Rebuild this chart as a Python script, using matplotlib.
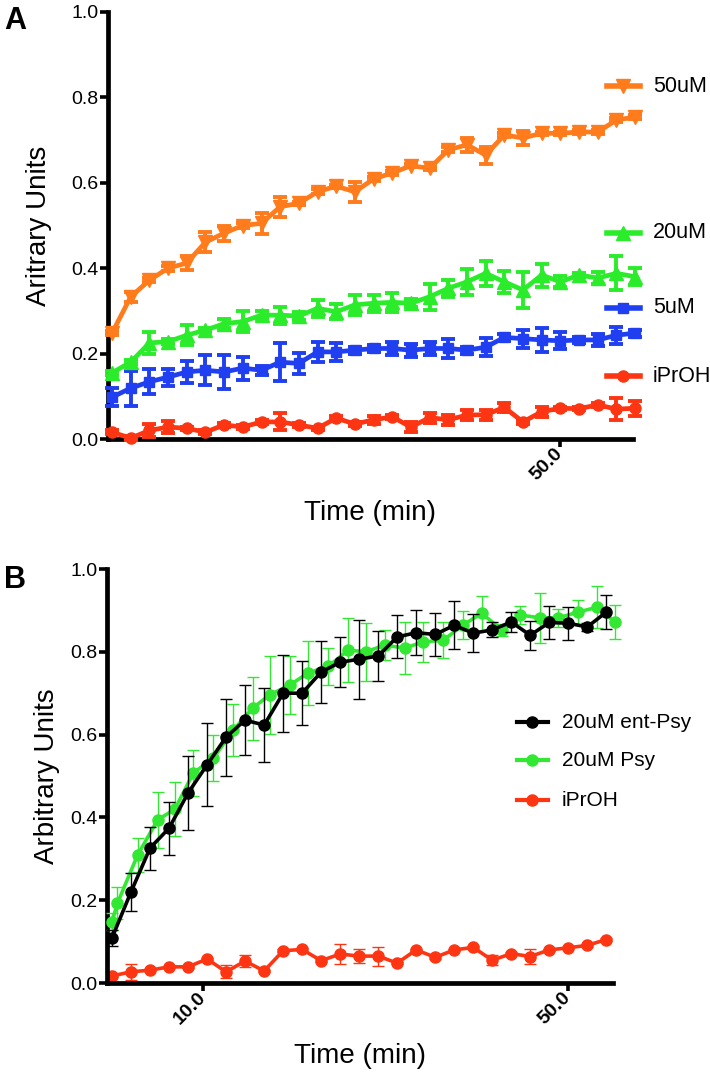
import matplotlib.pyplot as plt
from matplotlib.lines import Line2D
from matplotlib.ticker import FormatStrFormatter

plt.rcParams['font.family'] = ['Liberation Sans', 'DejaVu Sans']

W, H = 710, 1076

# --- panel A data (time in min, fluorescence in arbitrary units) ---
time_a = [0.0, 2.08, 4.17, 6.25, 8.33, 10.42, 12.5, 14.58, 16.67, 18.75,
          20.83, 22.92, 25.0, 27.08, 29.17, 31.25, 33.33, 35.42, 37.5, 39.58,
          41.67, 43.75, 45.83, 47.92, 50.0, 52.08, 54.17, 56.25, 58.33]

a_50uM = [0.248, 0.333, 0.372, 0.400, 0.412, 0.461, 0.482, 0.500, 0.505, 0.544,
          0.552, 0.579, 0.592, 0.579, 0.609, 0.623, 0.640, 0.634, 0.677, 0.689,
          0.665, 0.712, 0.705, 0.716, 0.716, 0.719, 0.719, 0.747, 0.754]
a_50uM_err = [0.004, 0.012, 0.004, 0.006, 0.017, 0.024, 0.018, 0.006, 0.025, 0.023,
              0.004, 0.006, 0.004, 0.024, 0.004, 0.004, 0.004, 0.004, 0.006, 0.016,
              0.020, 0.004, 0.016, 0.004, 0.004, 0.004, 0.004, 0.004, 0.004]

a_20uM = [0.155, 0.180, 0.225, 0.228, 0.243, 0.255, 0.270, 0.275, 0.290, 0.290,
          0.288, 0.306, 0.298, 0.314, 0.318, 0.320, 0.318, 0.333, 0.353, 0.368,
          0.388, 0.368, 0.349, 0.384, 0.368, 0.384, 0.377, 0.388, 0.380]
a_20uM_err = [0.004, 0.004, 0.025, 0.006, 0.023, 0.004, 0.010, 0.025, 0.010, 0.020,
              0.010, 0.020, 0.018, 0.024, 0.020, 0.023, 0.010, 0.030, 0.020, 0.030,
              0.030, 0.025, 0.043, 0.027, 0.013, 0.004, 0.015, 0.040, 0.020]

a_5uM = [0.098, 0.119, 0.134, 0.145, 0.157, 0.161, 0.157, 0.166, 0.161, 0.180,
         0.177, 0.204, 0.204, 0.208, 0.212, 0.212, 0.208, 0.212, 0.212, 0.208,
         0.215, 0.238, 0.235, 0.232, 0.230, 0.232, 0.232, 0.243, 0.248]
a_5uM_err = [0.021, 0.041, 0.029, 0.020, 0.025, 0.035, 0.039, 0.027, 0.010, 0.045,
             0.025, 0.023, 0.021, 0.008, 0.008, 0.016, 0.015, 0.015, 0.023, 0.008,
             0.021, 0.008, 0.021, 0.029, 0.020, 0.008, 0.015, 0.020, 0.008]

a_iproh = [0.016, 0.002, 0.020, 0.028, 0.025, 0.016, 0.033, 0.028, 0.040, 0.040,
           0.033, 0.025, 0.049, 0.035, 0.045, 0.052, 0.028, 0.050, 0.045, 0.056,
           0.057, 0.074, 0.040, 0.064, 0.072, 0.071, 0.080, 0.070, 0.072]
a_iproh_err = [0.004, 0.004, 0.015, 0.015, 0.004, 0.004, 0.004, 0.004, 0.004, 0.020,
               0.004, 0.004, 0.004, 0.004, 0.010, 0.004, 0.012, 0.012, 0.012, 0.012,
               0.012, 0.010, 0.004, 0.012, 0.004, 0.004, 0.004, 0.025, 0.018]

# --- panel B data ---
time_b = [0.0, 2.08, 4.17, 6.25, 8.33, 10.42, 12.5, 14.58, 16.67, 18.75,
          20.83, 22.92, 25.0, 27.08, 29.17, 31.25, 33.33, 35.42, 37.5, 39.58,
          41.67, 43.75, 45.83, 47.92, 50.0, 52.08, 54.17]
time_psy = [0.0, 0.6, 2.8, 5.0, 6.9, 8.9, 11.1, 13.3, 15.4, 17.3,
            19.5, 21.5, 23.7, 25.9, 27.8, 29.9, 32.1, 34.1, 36.3, 38.5,
            40.5, 42.7, 44.7, 46.9, 48.9, 51.1, 53.2, 55.1]

b_ent_psy = [0.109, 0.220, 0.326, 0.374, 0.459, 0.527, 0.594, 0.635, 0.623, 0.700,
             0.700, 0.751, 0.775, 0.782, 0.790, 0.836, 0.846, 0.842, 0.864, 0.845,
             0.853, 0.872, 0.840, 0.871, 0.869, 0.860, 0.896]
b_ent_psy_err = [0.020, 0.045, 0.052, 0.064, 0.089, 0.100, 0.093, 0.085, 0.089, 0.093,
                 0.077, 0.075, 0.060, 0.095, 0.060, 0.052, 0.054, 0.052, 0.058, 0.046,
                 0.018, 0.025, 0.035, 0.040, 0.040, 0.010, 0.042]

b_psy = [0.148, 0.193, 0.309, 0.394, 0.420, 0.507, 0.543, 0.611, 0.664, 0.696,
         0.720, 0.749, 0.765, 0.804, 0.800, 0.816, 0.809, 0.824, 0.828, 0.865,
         0.893, 0.853, 0.889, 0.882, 0.882, 0.896, 0.908, 0.872]
b_psy_err = [0.020, 0.038, 0.042, 0.068, 0.066, 0.056, 0.056, 0.062, 0.076, 0.095,
             0.070, 0.077, 0.044, 0.077, 0.070, 0.036, 0.062, 0.048, 0.044, 0.034,
             0.042, 0.015, 0.022, 0.060, 0.022, 0.030, 0.050, 0.042]

b_iproh = [0.017, 0.027, 0.031, 0.039, 0.039, 0.058, 0.027, 0.053, 0.029, 0.078,
           0.081, 0.054, 0.070, 0.065, 0.065, 0.048, 0.080, 0.062, 0.080, 0.086,
           0.055, 0.071, 0.064, 0.080, 0.085, 0.091, 0.105]
b_iproh_err = [0.003, 0.020, 0.003, 0.003, 0.003, 0.003, 0.016, 0.015, 0.003, 0.003,
               0.003, 0.003, 0.024, 0.016, 0.023, 0.003, 0.003, 0.003, 0.003, 0.003,
               0.012, 0.003, 0.018, 0.003, 0.003, 0.003, 0.003]

ORANGE = '#ff7b1c'
GREEN = '#2aec2a'
BLUE = '#1f3ff0'
RED = '#fd3513'
GREEN_B = '#33e833'

fig = plt.figure(figsize=(W / 100, H / 100), dpi=100)


def box(l, t, r, b):
    return [l / W, 1 - b / H, (r - l) / W, (b - t) / H]


def px(x, y):
    return x / W, 1 - y / H


def style(ax, xlim, xticks, ylabel, ylab_x):
    ax.set_xlim(*xlim)
    ax.set_ylim(0, 1)
    ax.set_yticks([0, 0.2, 0.4, 0.6, 0.8, 1.0])
    ax.set_xticks(xticks)
    ax.yaxis.set_major_formatter(FormatStrFormatter('%.1f'))
    ax.xaxis.set_major_formatter(FormatStrFormatter('%.1f'))
    for s in ['top', 'right']:
        ax.spines[s].set_visible(False)
    for s in ['left', 'bottom']:
        ax.spines[s].set_linewidth(3.4)
    ax.tick_params(width=2.6, length=6, labelsize=14, pad=1)
    ax.tick_params(axis='x', pad=3)
    for lab in ax.get_xticklabels():
        lab.set_rotation(45)
        lab.set_ha('right')
        lab.set_va('center')
        lab.set_rotation_mode('anchor')
        lab.set_fontweight('bold')
        lab.set_fontsize(14)
    ax.set_ylabel(ylabel, fontsize=20)
    ax.yaxis.set_label_coords(ylab_x, 0.5)
    ax.set_xlabel('Time (min)', fontsize=20)
    ax.xaxis.set_label_coords(0.5, -0.143)


def series(ax, t, y, err, color, marker, ms, lw, elw, cap, z):
    ax.errorbar(t, y, yerr=err, fmt='none', ecolor=color, elinewidth=elw,
                capsize=cap, capthick=elw, zorder=z, clip_on=False)
    ax.plot(t, y, color=color, marker=marker, markersize=ms, linewidth=lw,
            zorder=z + 0.5, clip_on=False)


# ---------------- panel A ----------------
ax_a = fig.add_axes(box(108, 12, 633, 439))
series(ax_a, time_a, a_50uM, a_50uM_err, ORANGE, 'v', 9.5, 3.4, 2.8, 5, 3)
series(ax_a, time_a, a_20uM, a_20uM_err, GREEN, '^', 9.5, 3.4, 2.8, 5, 3)
series(ax_a, time_a, a_5uM, a_5uM_err, BLUE, 's', 7.5, 3.4, 2.8, 5, 3)
series(ax_a, time_a, a_iproh, a_iproh_err, RED, 'o', 8, 3.4, 2.8, 5, 3)
style(ax_a, (-0.45, 58.1), [50], 'Aritrary Units', -0.107)

legend_a = [('50uM', ORANGE, 'v', 9.5, 86), ('20uM', GREEN, '^', 9.5, 233),
            ('5uM', BLUE, 's', 7.5, 308), ('iPrOH', RED, 'o', 8, 376)]
for label, color, marker, ms, y in legend_a:
    x0, yy = px(607, y)
    x1, _ = px(640, y)
    xm, _ = px(623, y)
    fig.add_artist(Line2D([x0, x1], [yy, yy], color=color, linewidth=4,
                          transform=fig.transFigure))
    fig.add_artist(Line2D([xm], [yy], color=color, marker=marker, markersize=ms,
                          transform=fig.transFigure))
    tx, ty = px(653, y)
    fig.text(tx, ty, label, fontsize=15.5, va='center', ha='left')

# ---------------- panel B ----------------
ax_b = fig.add_axes(box(107, 569, 613, 983))
series(ax_b, time_b, b_iproh, b_iproh_err, RED, 'o', 8, 2.6, 1.0, 4.6, 2)
series(ax_b, time_psy, b_psy, b_psy_err, GREEN_B, 'o', 8, 2.6, 1.0, 4.6, 3)
series(ax_b, time_b, b_ent_psy, b_ent_psy_err, 'black', 'o', 8, 2.6, 1.0, 4.6, 4)
style(ax_b, (-0.55, 54.9), [10, 50], 'Arbitrary Units', -0.093)
ax_b.xaxis.set_label_coords(0.5, -0.145)

legend_b = [('20uM ent-Psy', 'black', 722), ('20uM Psy', GREEN_B, 760),
            ('iPrOH', RED, 800)]
for label, color, y in legend_b:
    x0, yy = px(517, y)
    x1, _ = px(548, y)
    xm, _ = px(532, y)
    fig.add_artist(Line2D([x0, x1], [yy, yy], color=color, linewidth=3,
                          transform=fig.transFigure))
    fig.add_artist(Line2D([xm], [yy], color=color, marker='o', markersize=8,
                          transform=fig.transFigure))
    tx, ty = px(562, y)
    fig.text(tx, ty, label, fontsize=15, va='center', ha='left')

# panel letters
fig.text(*px(4, 29), 'A', fontsize=22, fontweight='bold', va='baseline')
fig.text(*px(4, 588), 'B', fontsize=22, fontweight='bold', va='baseline')

fig.savefig('out.png', dpi=100)
